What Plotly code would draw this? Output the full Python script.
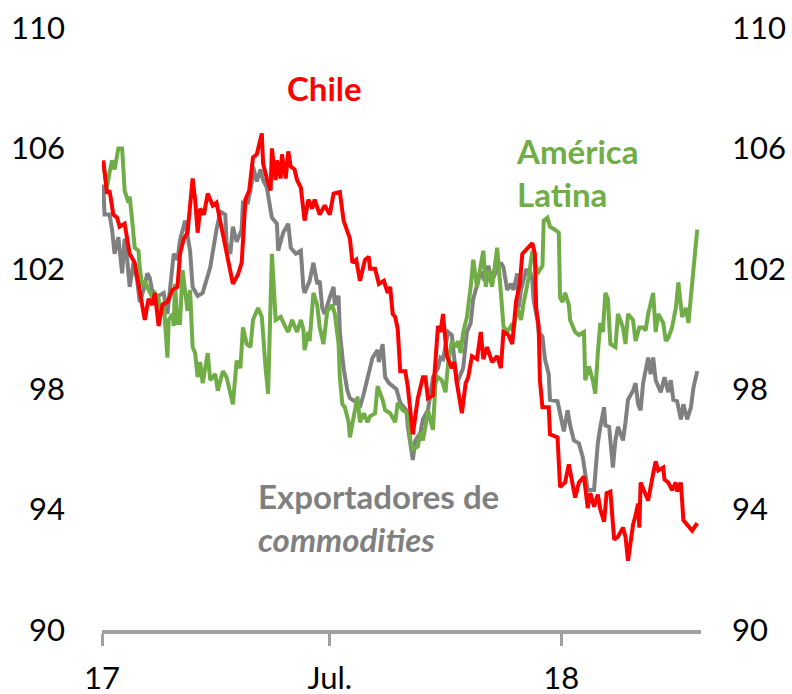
import plotly.graph_objects as go

# ---- Chile ----
chile_dates = [
    "2017-01-02", "2017-01-05", "2017-01-07", "2017-01-10", "2017-01-13", "2017-01-15",
    "2017-01-19", "2017-01-21", "2017-01-23", "2017-01-27", "2017-01-31", "2017-02-04",
    "2017-02-07", "2017-02-10", "2017-02-12", "2017-02-15", "2017-02-18", "2017-02-22",
    "2017-02-26", "2017-03-02", "2017-03-04", "2017-03-07", "2017-03-10", "2017-03-12",
    "2017-03-14", "2017-03-16", "2017-03-18", "2017-03-20", "2017-03-23", "2017-03-26",
    "2017-03-30", "2017-04-02", "2017-04-05", "2017-04-09", "2017-04-13", "2017-04-15",
    "2017-04-19", "2017-04-22", "2017-04-25", "2017-04-28", "2017-05-01", "2017-05-04",
    "2017-05-08", "2017-05-09", "2017-05-12", "2017-05-15", "2017-05-16", "2017-05-19",
    "2017-05-20", "2017-05-23", "2017-05-24", "2017-05-27", "2017-05-29", "2017-05-31",
    "2017-06-03", "2017-06-05", "2017-06-08", "2017-06-09", "2017-06-11", "2017-06-14",
    "2017-06-17", "2017-06-19", "2017-06-23", "2017-06-27", "2017-07-01", "2017-07-04",
    "2017-07-09", "2017-07-12", "2017-07-15", "2017-07-17", "2017-07-19", "2017-07-22",
    "2017-07-25", "2017-07-29", "2017-08-01", "2017-08-02", "2017-08-06", "2017-08-09",
    "2017-08-13", "2017-08-16", "2017-08-18", "2017-08-20", "2017-08-22", "2017-08-24",
    "2017-08-26", "2017-08-30", "2017-09-01", "2017-09-03", "2017-09-05", "2017-09-09",
    "2017-09-13", "2017-09-15", "2017-09-17", "2017-09-21", "2017-09-23", "2017-09-25",
    "2017-09-27", "2017-09-29", "2017-10-02", "2017-10-06", "2017-10-08", "2017-10-10",
    "2017-10-14", "2017-10-17", "2017-10-19", "2017-10-22", "2017-10-26", "2017-10-29",
    "2017-10-31", "2017-11-03", "2017-11-07", "2017-11-11", "2017-11-14", "2017-11-16",
    "2017-11-20", "2017-11-23", "2017-11-26", "2017-11-29", "2017-12-01", "2017-12-05",
    "2017-12-09", "2017-12-11", "2017-12-12", "2017-12-14", "2017-12-15", "2017-12-17",
    "2017-12-22", "2017-12-23", "2017-12-29", "2017-12-31", "2018-01-04", "2018-01-07",
    "2018-01-10", "2018-01-12", "2018-01-15", "2018-01-19", "2018-01-22", "2018-01-24",
    "2018-01-27", "2018-01-30", "2018-02-01", "2018-02-04", "2018-02-06", "2018-02-09",
    "2018-02-12", "2018-02-15", "2018-02-19", "2018-02-21", "2018-02-23", "2018-02-25",
    "2018-02-27", "2018-03-01", "2018-03-03", "2018-03-04", "2018-03-05", "2018-03-08",
    "2018-03-11", "2018-03-15", "2018-03-17", "2018-03-19", "2018-03-23", "2018-03-24",
    "2018-03-27", "2018-03-30", "2018-04-02", "2018-04-03", "2018-04-06", "2018-04-08",
    "2018-04-11", "2018-04-15", "2018-04-19",
]
chile_values = [
    105.6, 104.5, 104.6, 103.8, 103.7, 103.4,
    103.5, 103.0, 102.5, 102.2, 101.2, 100.3,
    101.0, 100.8, 101.2, 100.1, 100.8, 100.9,
    101.3, 101.4, 102.5, 103.0, 103.2, 104.3,
    105.0, 104.3, 103.2, 104.0, 103.8, 104.5,
    104.1, 104.2, 103.6, 102.8, 101.9, 101.5,
    101.8, 102.2, 104.3, 104.6, 105.7, 105.8,
    106.5, 105.5, 105.0, 104.6, 106.0, 104.95,
    105.6, 105.0, 105.8, 105.0, 105.9, 105.4,
    105.3, 104.95, 104.7, 104.3, 103.6, 104.3,
    104.0, 104.3, 103.8, 104.1, 103.8, 104.5,
    104.55, 103.6, 103.2, 103.0, 102.2, 102.3,
    101.6, 102.3, 102.4, 102.0, 102.0, 101.5,
    101.6, 101.2, 101.4, 100.5, 100.4, 100.0,
    98.6, 98.6, 98.1, 97.4, 96.5, 97.7,
    98.4, 98.4, 97.7, 97.8, 99.2, 100.1,
    99.9, 100.5, 99.1, 98.7, 98.9, 98.2,
    97.2, 98.2, 98.4, 99.1, 99.0, 99.9,
    99.0, 99.4, 98.9, 99.1, 98.7, 99.9,
    99.8, 99.5, 100.9, 101.5, 102.5, 102.7,
    102.85, 102.5, 100.7, 100.1, 98.3, 97.4,
    97.4, 96.5, 96.4, 94.75, 94.9, 95.5,
    94.9, 94.4, 94.9, 95.1, 94.05, 94.55,
    94.1, 94.5, 94.0, 93.6, 94.55, 94.6,
    93.0, 93.1, 93.4, 93.1, 92.3, 93.0,
    93.5, 93.8, 94.2, 93.4, 94.9, 94.6,
    94.3, 95.2, 95.6, 95.3, 95.4, 95.0,
    94.9, 94.65, 94.9, 94.6, 94.9, 93.65,
    93.5, 93.3, 93.55,
]

# ---- Exportadores de commodities ----
commod_dates = [
    "2017-01-02", "2017-01-03", "2017-01-07", "2017-01-09", "2017-01-11", "2017-01-14",
    "2017-01-17", "2017-01-19", "2017-01-21", "2017-01-23", "2017-01-26", "2017-01-29",
    "2017-01-31", "2017-02-03", "2017-02-06", "2017-02-08", "2017-02-11", "2017-02-15",
    "2017-02-19", "2017-02-22", "2017-02-24", "2017-02-27", "2017-03-02", "2017-03-04",
    "2017-03-08", "2017-03-12", "2017-03-14", "2017-03-18", "2017-03-22", "2017-03-28",
    "2017-04-02", "2017-04-05", "2017-04-09", "2017-04-10", "2017-04-13", "2017-04-15",
    "2017-04-18", "2017-04-22", "2017-04-23", "2017-04-27", "2017-04-30", "2017-05-01",
    "2017-05-04", "2017-05-07", "2017-05-09", "2017-05-12", "2017-05-16", "2017-05-20",
    "2017-05-21", "2017-05-25", "2017-05-29", "2017-05-31", "2017-06-04", "2017-06-08",
    "2017-06-10", "2017-06-11", "2017-06-15", "2017-06-18", "2017-06-21", "2017-06-23",
    "2017-06-25", "2017-06-27", "2017-07-01", "2017-07-04", "2017-07-05", "2017-07-08",
    "2017-07-09", "2017-07-12", "2017-07-15", "2017-07-17", "2017-07-21", "2017-07-25",
    "2017-07-28", "2017-07-31", "2017-08-02", "2017-08-04", "2017-08-08", "2017-08-09",
    "2017-08-12", "2017-08-14", "2017-08-17", "2017-08-20", "2017-08-23", "2017-08-26",
    "2017-08-31", "2017-09-01", "2017-09-05", "2017-09-07", "2017-09-11", "2017-09-13",
    "2017-09-17", "2017-09-19", "2017-09-21", "2017-09-25", "2017-09-27", "2017-09-29",
    "2017-10-03", "2017-10-06", "2017-10-09", "2017-10-10", "2017-10-13", "2017-10-15",
    "2017-10-18", "2017-10-21", "2017-10-23", "2017-10-26", "2017-10-29", "2017-11-01",
    "2017-11-04", "2017-11-07", "2017-11-10", "2017-11-14", "2017-11-16", "2017-11-19",
    "2017-11-22", "2017-11-24", "2017-11-27", "2017-11-28", "2017-11-30", "2017-12-04",
    "2017-12-07", "2017-12-09", "2017-12-10", "2017-12-13", "2017-12-14", "2017-12-17",
    "2017-12-19", "2017-12-22", "2017-12-23", "2017-12-29", "2017-12-31", "2018-01-03",
    "2018-01-06", "2018-01-08", "2018-01-11", "2018-01-15", "2018-01-18", "2018-01-20",
    "2018-01-22", "2018-01-27", "2018-01-30", "2018-02-01", "2018-02-04", "2018-02-05",
    "2018-02-08", "2018-02-11", "2018-02-13", "2018-02-15", "2018-02-19", "2018-02-21",
    "2018-02-23", "2018-02-27", "2018-03-01", "2018-03-03", "2018-03-05", "2018-03-07",
    "2018-03-11", "2018-03-13", "2018-03-15", "2018-03-17", "2018-03-21", "2018-03-24",
    "2018-03-27", "2018-03-29", "2018-03-31", "2018-04-03", "2018-04-06", "2018-04-08",
    "2018-04-11", "2018-04-14", "2018-04-16", "2018-04-19",
]
commod_values = [
    104.8, 103.8, 103.8, 103.3, 102.5, 103.05,
    101.85, 103.0, 102.3, 101.4, 102.2, 101.6,
    100.9, 101.3, 101.85, 101.7, 101.0, 101.1,
    101.2, 100.5, 101.3, 102.5, 102.3, 102.95,
    103.6, 102.6, 101.4, 101.1, 101.2, 102.05,
    103.3, 103.9, 103.8, 102.85, 102.5, 103.4,
    102.9, 103.3, 104.2, 104.2, 104.85, 105.4,
    104.9, 105.3, 104.95, 104.7, 103.7, 103.5,
    102.6, 103.2, 103.5, 102.7, 102.5, 102.6,
    101.4, 101.2, 101.6, 102.2, 101.5, 101.6,
    100.7, 100.5, 101.05, 101.4, 100.8, 101.1,
    99.9, 98.7, 97.95, 97.7, 97.6, 97.4,
    97.85, 98.4, 98.7, 99.05, 99.3, 98.9,
    99.5, 98.4, 98.2, 98.1, 98.0, 97.55,
    97.3, 96.75, 95.65, 96.3, 96.55, 97.0,
    97.3, 97.85, 98.4, 98.7, 99.05, 99.0,
    99.9, 99.8, 98.4, 98.2, 98.5, 98.7,
    99.9, 100.2, 101.0, 101.5, 101.9, 101.6,
    102.1, 101.6, 101.9, 102.2, 102.05, 101.3,
    101.5, 101.3, 101.85, 100.7, 101.3, 101.95,
    101.95, 101.6, 100.95, 100.3, 99.9, 99.75,
    99.0, 98.5, 97.65, 97.6, 97.2, 96.6,
    97.3, 96.8, 96.3, 96.2, 95.75, 95.2,
    94.65, 94.65, 96.2, 96.75, 97.4, 96.8,
    96.75, 95.4, 96.3, 96.75, 96.3, 96.9,
    97.65, 97.95, 98.2, 97.5, 97.3, 98.2,
    99.05, 98.5, 99.05, 98.3, 97.9, 98.4,
    97.9, 98.3, 97.65, 97.6, 97.0, 97.5,
    97.0, 97.4, 98.05, 98.6,
]

# ---- América Latina ----
latam_dates = [
    "2017-01-02", "2017-01-05", "2017-01-07", "2017-01-09", "2017-01-11", "2017-01-14",
    "2017-01-17", "2017-01-18", "2017-01-19", "2017-01-22", "2017-01-23", "2017-01-25",
    "2017-01-27", "2017-01-30", "2017-01-31", "2017-02-02", "2017-02-04", "2017-02-07",
    "2017-02-10", "2017-02-12", "2017-02-15", "2017-02-16", "2017-02-19", "2017-02-22",
    "2017-02-23", "2017-02-26", "2017-02-27", "2017-02-28", "2017-03-02", "2017-03-04",
    "2017-03-06", "2017-03-10", "2017-03-12", "2017-03-14", "2017-03-16", "2017-03-18",
    "2017-03-20", "2017-03-22", "2017-03-26", "2017-03-28", "2017-04-01", "2017-04-03",
    "2017-04-07", "2017-04-10", "2017-04-13", "2017-04-15", "2017-04-18", "2017-04-21",
    "2017-04-23", "2017-04-26", "2017-04-29", "2017-05-01", "2017-05-05", "2017-05-08",
    "2017-05-11", "2017-05-13", "2017-05-16", "2017-05-19", "2017-05-23", "2017-05-25",
    "2017-05-27", "2017-05-29", "2017-06-01", "2017-06-05", "2017-06-08", "2017-06-10",
    "2017-06-11", "2017-06-14", "2017-06-15", "2017-06-18", "2017-06-21", "2017-06-23",
    "2017-06-26", "2017-06-29", "2017-07-03", "2017-07-05", "2017-07-08", "2017-07-09",
    "2017-07-11", "2017-07-13", "2017-07-16", "2017-07-17", "2017-07-20", "2017-07-23",
    "2017-07-25", "2017-07-28", "2017-07-31", "2017-08-02", "2017-08-06", "2017-08-08",
    "2017-08-12", "2017-08-14", "2017-08-18", "2017-08-22", "2017-08-24", "2017-08-28",
    "2017-09-01", "2017-09-03", "2017-09-05", "2017-09-09", "2017-09-11", "2017-09-13",
    "2017-09-15", "2017-09-17", "2017-09-21", "2017-09-23", "2017-09-25", "2017-09-28",
    "2017-10-01", "2017-10-03", "2017-10-06", "2017-10-09", "2017-10-11", "2017-10-13",
    "2017-10-15", "2017-10-18", "2017-10-21", "2017-10-23", "2017-10-26", "2017-10-29",
    "2017-10-31", "2017-11-02", "2017-11-04", "2017-11-07", "2017-11-10", "2017-11-11",
    "2017-11-14", "2017-11-16", "2017-11-19", "2017-11-22", "2017-11-24", "2017-11-27",
    "2017-11-30", "2017-12-02", "2017-12-06", "2017-12-09", "2017-12-12", "2017-12-14",
    "2017-12-17", "2017-12-18", "2017-12-21", "2017-12-23", "2017-12-27", "2017-12-30",
    "2017-12-31", "2018-01-02", "2018-01-04", "2018-01-07", "2018-01-08", "2018-01-12",
    "2018-01-15", "2018-01-19", "2018-01-20", "2018-01-23", "2018-01-26", "2018-01-28",
    "2018-01-30", "2018-02-01", "2018-02-03", "2018-02-05", "2018-02-07", "2018-02-09",
    "2018-02-13", "2018-02-15", "2018-02-19", "2018-02-21", "2018-02-23", "2018-02-27",
    "2018-03-01", "2018-03-04", "2018-03-07", "2018-03-09", "2018-03-11", "2018-03-15",
    "2018-03-17", "2018-03-19", "2018-03-23", "2018-03-25", "2018-03-27", "2018-03-30",
    "2018-04-02", "2018-04-04", "2018-04-07", "2018-04-10", "2018-04-12", "2018-04-19",
]
latam_values = [
    105.5, 104.7, 105.2, 105.6, 105.3, 106.0,
    106.0, 104.95, 104.6, 104.2, 104.4, 103.6,
    102.7, 102.6, 102.05, 101.4, 101.6, 101.3,
    101.05, 101.2, 101.0, 100.4, 100.9, 99.05,
    100.3, 100.5, 100.1, 101.5, 100.2, 100.2,
    101.95, 100.6, 101.3, 99.4, 99.2, 98.4,
    98.9, 98.2, 99.2, 98.3, 98.5, 97.95,
    98.6, 98.4, 97.85, 97.5, 98.95, 98.7,
    100.05, 99.5, 99.4, 100.3, 100.7, 100.4,
    98.7, 97.85, 102.5, 100.3, 100.4, 100.2,
    100.05, 99.9, 100.3, 99.9, 100.3, 100.0,
    99.3, 99.9, 99.6, 101.2, 100.8, 100.05,
    99.5, 100.6, 100.8, 100.5, 99.5, 98.4,
    97.5, 97.4, 96.9, 96.4, 97.1, 97.75,
    96.9, 97.2, 96.9, 97.1, 97.2, 98.1,
    97.65, 97.3, 97.2, 96.9, 97.55, 97.3,
    97.2, 96.3, 96.0, 96.1, 96.55, 96.3,
    96.75, 97.3, 96.65, 98.2, 98.4, 98.3,
    97.9, 98.85, 99.6, 99.4, 99.6, 99.2,
    99.9, 100.4, 101.4, 102.3, 101.4, 102.05,
    102.6, 101.4, 101.95, 101.4, 102.3, 102.7,
    101.2, 100.1, 99.9, 100.1, 99.95, 100.7,
    100.3, 100.85, 101.7, 102.6, 102.05, 101.9,
    102.1, 103.6, 103.7, 103.4, 103.3, 103.2,
    101.05, 100.9, 101.2, 100.8, 100.3, 99.9,
    99.8, 99.9, 98.3, 98.75, 98.3, 97.85,
    99.2, 100.2, 99.9, 101.2, 101.0, 99.5,
    99.4, 100.5, 100.05, 99.5, 100.5, 100.3,
    99.6, 100.05, 100.05, 99.95, 100.5, 101.2,
    99.9, 100.5, 100.2, 99.6, 99.7, 100.05,
    100.7, 101.55, 100.4, 100.7, 100.2, 103.3,
]

# ---- axes ----
x_tick_dates = ["2017-01-01", "2017-07-01", "2018-01-01"]
x_tick_labels = ["17", "Jul.", "18"]
y_ticks = [90, 94, 98, 102, 106, 110]
y_range = [90, 110]
x_range = ["2017-01-01", "2018-04-22"]

RED = "#FF0000"
GREEN = "#70AD47"
GREY = "#808080"
FONT = "Lato"
LINE_W = 4

fig = go.Figure()
fig.add_trace(go.Scatter(x=commod_dates, y=commod_values, mode="lines",
                         line=dict(color=GREY, width=LINE_W), name="Exportadores de commodities"))
fig.add_trace(go.Scatter(x=latam_dates, y=latam_values, mode="lines",
                         line=dict(color=GREEN, width=LINE_W), name="América Latina"))
# Chile drawn on the right-hand axis (same scale) so it sits on top
fig.add_trace(go.Scatter(x=chile_dates, y=chile_values, mode="lines", yaxis="y2",
                         line=dict(color=RED, width=LINE_W), name="Chile"))

tick_font = dict(family=FONT, size=31, color="#000000")

fig.update_layout(
    width=792, height=694,
    margin=dict(l=102, r=91, t=28, b=64),
    paper_bgcolor="white", plot_bgcolor="white",
    showlegend=False,
    font=dict(family=FONT, size=31, color="#000000"),
    xaxis=dict(
        type="date", range=x_range, automargin=False,
        tickvals=x_tick_dates, ticktext=x_tick_labels,
        showgrid=False, zeroline=False,
        showline=True, linecolor="#A0A0A0", linewidth=3.5,
        ticks="outside", ticklen=12, tickwidth=3, tickcolor="#A0A0A0",
        ticklabelstandoff=6,
        tickfont=tick_font,
    ),
    yaxis=dict(
        range=y_range, tickvals=y_ticks, automargin=False,
        showgrid=False, zeroline=False, showline=False, ticks="",
        ticklabelstandoff=36,
        tickfont=tick_font,
    ),
    yaxis2=dict(
        range=y_range, tickvals=y_ticks, overlaying="y", side="right", automargin=False,
        showgrid=False, zeroline=False, showline=False, ticks="",
        ticklabelstandoff=30,
        tickfont=tick_font,
    ),
)

label_size = 33
fig.add_annotation(x="2017-06-27", y=108.0, xref="x", yref="y",
                   text="<b>Chile</b>", showarrow=False,
                   xanchor="center", yanchor="middle",
                   font=dict(family=FONT, size=label_size, color=RED))
fig.add_annotation(x="2017-11-24", y=105.2, xref="x", yref="y",
                   text="<b>América<br>Latina</b>", showarrow=False, align="left",
                   xanchor="left", yanchor="middle",
                   font=dict(family=FONT, size=label_size, color=GREEN))
fig.add_annotation(x="2017-05-03", y=93.75, xref="x", yref="y",
                   text="<b>Exportadores de<br><i>commodities</i></b>", showarrow=False,
                   align="left", xanchor="left", yanchor="middle",
                   font=dict(family=FONT, size=label_size, color=GREY))

fig.write_html("out.html")
